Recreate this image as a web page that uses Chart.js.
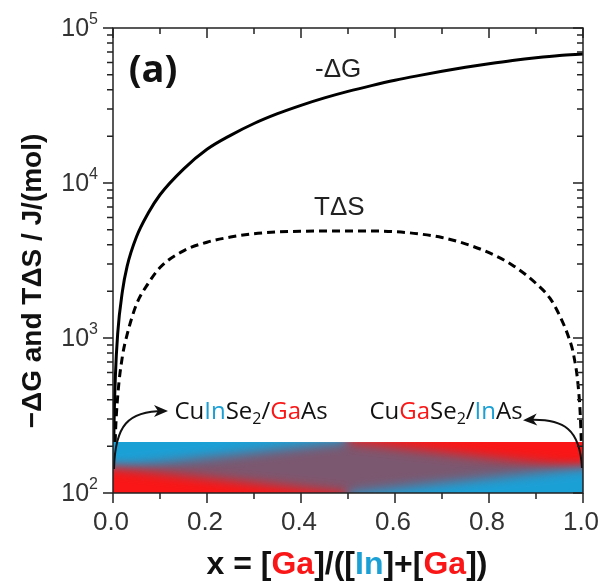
<!DOCTYPE html>
<html>
<head>
<meta charset="utf-8">
<script src="https://cdn.jsdelivr.net/npm/chart.js@4.4.1/dist/chart.umd.min.js"></script>
<style>
body{margin:0;background:#fff;}
</style>
</head>
<body>
<canvas id="grafico" width="603" height="581"></canvas>
<script>
// -dG curve
var x_dg = [0.001,0.002,0.005,0.01,0.02,0.03,0.05,0.075,0.1,0.15,0.2,0.25,0.3,0.35,0.4,0.45,0.5,0.55,0.6,0.65,0.7,0.75,0.8,0.85,0.9,0.95,1.0];
var menos_dg = [125,250,560,1070,2000,2900,4500,6400,8400,12300,16500,20300,24200,28000,31700,35400,39000,42500,46000,49300,52600,55800,58800,61700,64300,66500,67900];

// TdS curve
var x_ts = [0.001,0.002,0.005,0.01,0.02,0.03,0.05,0.075,0.1,0.15,0.2,0.25,0.3,0.35,0.4,0.45,0.5,0.55,0.6,0.65,0.7,0.75,0.8,0.85,0.9,0.93,0.95,0.97,0.98,0.99,0.995,0.998,0.999];
var t_ds = [55,100,230,420,760,1050,1650,2250,2850,3650,4150,4480,4710,4830,4880,4900,4900,4900,4850,4700,4450,4050,3550,2950,2250,1800,1400,1000,780,480,280,130,70];

// ticks
var x_mayores = [0,0.2,0.4,0.6,0.8,1.0];
var x_menores = [0.1,0.3,0.5,0.7,0.9];
var y_mayores = [100,1000,10000,100000];
var y_exp = ['2','3','4','5'];

// coloured band at the bottom (x: left, middle, right / y: bottom, boundary, top)
var banda_x = [0, 0.5, 1];
var banda_y = [100, 145, 213];

var AZUL = 'rgb(27,160,214)';
var ROJO = 'rgb(250,22,22)';
var MORADO = 'rgb(124,88,112)';

function puntos(xs, ys){
    var res = [];
    for (var i = 0; i < xs.length; i++){
        res.push({x: xs[i], y: ys[i]});
    }
    return res;
}

function poligono(ctx, color, pts){
    ctx.fillStyle = color;
    ctx.beginPath();
    ctx.moveTo(pts[0][0], pts[0][1]);
    for (var i = 1; i < pts.length; i++) ctx.lineTo(pts[i][0], pts[i][1]);
    ctx.closePath();
    ctx.fill();
}

// text made of coloured pieces, centred on cx
function texto_partes(ctx, partes, cx, cy, fuente, fuente_sub){
    ctx.font = fuente;
    var total = 0;
    for (var i = 0; i < partes.length; i++){
        ctx.font = partes[i].sub ? fuente_sub : fuente;
        total += ctx.measureText(partes[i].t).width;
    }
    var x = cx - total/2;
    ctx.textAlign = 'left';
    ctx.textBaseline = 'middle';
    for (var i = 0; i < partes.length; i++){
        ctx.font = partes[i].sub ? fuente_sub : fuente;
        ctx.fillStyle = partes[i].c || '#111';
        ctx.fillText(partes[i].t, x, partes[i].sub ? cy + 7 : cy);
        x += ctx.measureText(partes[i].t).width;
    }
}

function flecha(ctx, p0, c1, c2, p1){
    ctx.strokeStyle = '#111';
    ctx.lineWidth = 2;
    ctx.beginPath();
    ctx.moveTo(p0[0], p0[1]);
    ctx.bezierCurveTo(c1[0], c1[1], c2[0], c2[1], p1[0], p1[1]);
    ctx.stroke();
    var ang = Math.atan2(p1[1]-c2[1], p1[0]-c2[0]);
    ctx.fillStyle = '#111';
    ctx.beginPath();
    ctx.moveTo(p1[0] + 4*Math.cos(ang), p1[1] + 4*Math.sin(ang));
    ctx.lineTo(p1[0] - 10*Math.cos(ang) + 6*Math.sin(ang), p1[1] - 10*Math.sin(ang) - 6*Math.cos(ang));
    ctx.lineTo(p1[0] - 6*Math.cos(ang), p1[1] - 6*Math.sin(ang));
    ctx.lineTo(p1[0] - 10*Math.cos(ang) - 6*Math.sin(ang), p1[1] - 10*Math.sin(ang) + 6*Math.cos(ang));
    ctx.closePath();
    ctx.fill();
}

var dibujo = {
    id: 'dibujo',
    beforeDraw: function(chart){
        var ctx = chart.ctx;
        ctx.save();
        ctx.fillStyle = '#fff';
        ctx.fillRect(0, 0, chart.width, chart.height);
        ctx.restore();
    },
    afterDatasetsDraw: function(chart){
        var ctx = chart.ctx;
        var xs = chart.scales.x, ys = chart.scales.y;
        var a = chart.chartArea;

        // band
        var x0 = xs.getPixelForValue(banda_x[0]), xm = xs.getPixelForValue(banda_x[1]), x1 = xs.getPixelForValue(banda_x[2]);
        var yb = ys.getPixelForValue(banda_y[0]), ymid = ys.getPixelForValue(banda_y[1]), yt = ys.getPixelForValue(banda_y[2]);
        var k = (ymid - yt)/(xm - x0), k2 = (yb - ymid)/(xm - x0);
        ctx.save();
        ctx.beginPath();
        ctx.rect(x0, yt, x1 - x0, yb - yt);
        ctx.clip();
        ctx.fillStyle = MORADO;
        ctx.fillRect(x0, yt, x1 - x0, yb - yt);
        ctx.filter = 'blur(6px)';
        poligono(ctx, AZUL, [[x0-40, yt-40], [xm, yt-40], [xm, yt], [x0-40, ymid+40*k]]);
        poligono(ctx, ROJO, [[x0-40, ymid-40*k2], [xm, yb], [xm, yb+40], [x0-40, yb+40]]);
        poligono(ctx, ROJO, [[x1+40, yt-40], [xm, yt-40], [xm, yt], [x1+40, ymid+40*k]]);
        poligono(ctx, AZUL, [[x1+40, ymid-40*k2], [xm, yb], [xm, yb+40], [x1+40, yb+40]]);
        ctx.filter = 'none';
        ctx.restore();

        ctx.save();
        // arrows
        flecha(ctx, [x0+1, ymid+1], [x0+2, 425], [x0+15, 411], [164, 411]);
        flecha(ctx, [x1-1, ymid], [x1-3, 430], [x1-18, 418], [527, 420]);

        // labels inside the plot
        var f = '24px "Open Sans", sans-serif', fs = '16px "Open Sans", sans-serif';
        texto_partes(ctx, [{t:'Cu'},{t:'In',c:AZUL},{t:'Se'},{t:'2',sub:true},{t:'/'},{t:'Ga',c:ROJO},{t:'As'}], 251, 412, f, fs);
        texto_partes(ctx, [{t:'Cu'},{t:'Ga',c:ROJO},{t:'Se'},{t:'2',sub:true},{t:'/'},{t:'In',c:AZUL},{t:'As'}], 446, 412, f, fs);

        ctx.fillStyle = '#222';
        ctx.textAlign = 'left';
        ctx.textBaseline = 'middle';
        ctx.font = '26px "Liberation Sans", Arial, sans-serif';
        ctx.fillText('-ΔG', 315, 70);
        ctx.fillText('TΔS', 314, 208);

        ctx.fillStyle = '#111';
        ctx.font = 'bold 38px "Open Sans", sans-serif';
        ctx.textAlign = 'center';
        ctx.fillText('(a)', 153, 71);

        // frame
        ctx.strokeStyle = '#222';
        ctx.lineWidth = 1.5;
        ctx.strokeRect(a.left, a.top, a.right - a.left, a.bottom - a.top);

        // ticks
        ctx.lineWidth = 1.5;
        ctx.beginPath();
        x_mayores.forEach(function(v){
            var p = xs.getPixelForValue(v);
            ctx.moveTo(p, a.bottom); ctx.lineTo(p, a.bottom + 10);
            ctx.moveTo(p, a.top); ctx.lineTo(p, a.top + 10);
        });
        x_menores.forEach(function(v){
            var p = xs.getPixelForValue(v);
            ctx.moveTo(p, a.bottom); ctx.lineTo(p, a.bottom + 6);
            ctx.moveTo(p, a.top); ctx.lineTo(p, a.top + 6);
        });
        y_mayores.forEach(function(v, i){
            var p = ys.getPixelForValue(v);
            ctx.moveTo(a.left, p); ctx.lineTo(a.left - 10, p);
            ctx.moveTo(a.right, p); ctx.lineTo(a.right - 10, p);
            if (i < y_mayores.length - 1){
                for (var m = 2; m <= 9; m++){
                    var q = ys.getPixelForValue(v*m);
                    ctx.moveTo(a.left, q); ctx.lineTo(a.left - 6, q);
                    ctx.moveTo(a.right, q); ctx.lineTo(a.right - 6, q);
                }
            }
        });
        ctx.stroke();

        // x tick labels
        ctx.fillStyle = '#333';
        ctx.textAlign = 'center';
        ctx.textBaseline = 'middle';
        ctx.font = '26px "Liberation Sans", Arial, sans-serif';
        x_mayores.forEach(function(v){
            ctx.fillText(v.toFixed(1), xs.getPixelForValue(v) - 2, a.bottom + 30);
        });

        // y tick labels 10^n
        y_mayores.forEach(function(v, i){
            var p = ys.getPixelForValue(v);
            ctx.font = '16px "Liberation Sans", Arial, sans-serif';
            ctx.textAlign = 'right';
            ctx.fillText(y_exp[i], 98, p - 8);
            var we = ctx.measureText(y_exp[i]).width;
            ctx.font = '25px "Liberation Sans", Arial, sans-serif';
            ctx.fillText('10', 98 - we, p + 1);
        });

        // axis titles
        ctx.save();
        ctx.translate(33, 281);
        ctx.rotate(-Math.PI/2);
        ctx.fillStyle = '#111';
        ctx.font = 'bold 28px "Liberation Sans", Arial, sans-serif';
        ctx.textAlign = 'center';
        ctx.textBaseline = 'middle';
        ctx.fillText('−ΔG and TΔS / J/(mol)', 0, 0);
        ctx.restore();

        var fb = 'bold 32px "Liberation Sans", Arial, sans-serif';
        texto_partes(ctx, [{t:'x = ['},{t:'Ga',c:ROJO},{t:']/(['},{t:'In',c:AZUL},{t:']+['},{t:'Ga',c:ROJO},{t:'])'}], 347, 565, fb, fb);
        ctx.restore();
    }
};

new Chart(document.getElementById('grafico'), {
    type: 'line',
    data: {
        datasets: [
            {label: '-ΔG', data: puntos(x_dg, menos_dg), borderColor: '#000', borderWidth: 3,
             pointRadius: 0, cubicInterpolationMode: 'monotone', fill: false},
            {label: 'TΔS', data: puntos(x_ts, t_ds), borderColor: '#000', borderWidth: 3, borderDash: [8, 5],
             pointRadius: 0, cubicInterpolationMode: 'monotone', fill: false}
        ]
    },
    options: {
        responsive: false,
        animation: false,
        devicePixelRatio: 1,
        layout: {padding: {top: 28, right: 20, left: 0, bottom: 0}},
        plugins: {legend: {display: false}, tooltip: {enabled: false}},
        scales: {
            x: {
                type: 'linear', min: 0, max: 1,
                grid: {display: false, drawTicks: false},
                border: {display: false},
                ticks: {display: false},
                afterFit: function(s){ s.height = 88; }
            },
            y: {
                type: 'logarithmic', min: 100, max: 100000,
                grid: {display: false, drawTicks: false},
                border: {display: false},
                ticks: {display: false},
                afterFit: function(s){ s.width = 113; }
            }
        }
    },
    plugins: [dibujo]
});
</script>
</body>
</html>
